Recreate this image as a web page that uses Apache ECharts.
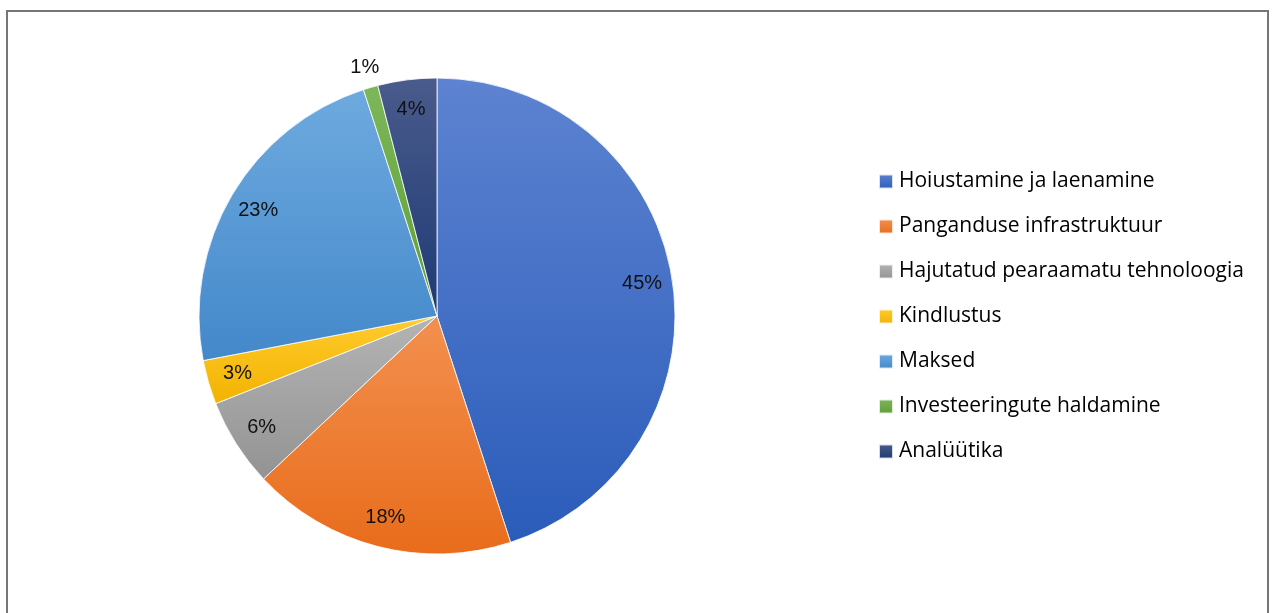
<!DOCTYPE html>
<html>
<head>
<meta charset="utf-8">
<style>
  html, body { margin: 0; padding: 0; background: #fff; }
  #chart { width: 1275px; height: 613px; }
</style>
<script src="https://cdn.jsdelivr.net/npm/echarts@6/dist/echarts.min.js"></script>
</head>
<body>
<div id="chart"></div>
<script>
// Fintech segments and their shares (%)
const categories = [
  'Hoiustamine ja laenamine',
  'Panganduse infrastruktuur',
  'Hajutatud pearaamatu tehnoloogia',
  'Kindlustus',
  'Maksed',
  'Investeeringute haldamine',
  'Analüütika'
];
const shares = [45, 18, 6, 3, 23, 1, 4];

// Top / bottom colours of each slice's vertical gradient
const topColors    = ['#5d83d1', '#f3904f', '#b4b4b4', '#ffcb2e', '#6eaadf', '#7cb759', '#4a5b8c'];
const bottomColors = ['#2b5cba', '#e86c1b', '#939393', '#f2b300', '#4388ca', '#5f9e38', '#1d3a74'];

const chart = echarts.init(document.getElementById('chart'));

const LABEL_FONT = 'Liberation Sans';
const LEGEND_FONT = 'Open Sans';
const CENTER = [437, 316];
const R = 238;

function grad(i) {
  return new echarts.graphic.LinearGradient(0, 0, 0, 1, [
    { offset: 0, color: topColors[i] },
    { offset: 1, color: bottomColors[i] }
  ]);
}

const sliceData = categories.map((name, i) => ({
  name,
  value: shares[i],
  itemStyle: { color: grad(i) }
}));

const labelText = p => p.value + '%';

// Ring used only to place labels near the rim of the slices
const innerLabelData = categories.map((name, i) => ({
  name,
  value: shares[i],
  label: { show: shares[i] > 1 }
}));
// Ring just outside the pie for the smallest slice's label
const outerLabelData = categories.map((name, i) => ({
  name,
  value: shares[i],
  label: { show: shares[i] <= 1 }
}));

const ringBase = {
  type: 'pie',
  center: CENTER,
  startAngle: 90,
  clockwise: true,
  silent: true,
  legendHoverLink: false,
  itemStyle: { color: 'rgba(0,0,0,0)', borderWidth: 0 },
  labelLine: { show: false },
  emphasis: { disabled: true },
  animation: false
};

const labelStyle = { position: 'inside', formatter: labelText, fontFamily: LABEL_FONT, fontSize: 20, color: '#111' };

chart.setOption({
  backgroundColor: '#ffffff',
  animation: false,
  legend: {
    orient: 'vertical',
    left: 873,
    top: 166,
    icon: 'rect',
    itemWidth: 14,
    itemHeight: 14,
    itemGap: 24,
    selectedMode: false,
    data: categories,
    textStyle: { fontFamily: LEGEND_FONT, fontSize: 21, color: '#000', lineHeight: 19, padding: [0, 0, 0, 1] }
  },
  graphic: [{
    type: 'rect',
    shape: { x: 7, y: 11, width: 1261, height: 700 },
    style: { fill: 'none', stroke: '#767676', lineWidth: 2 },
    silent: true
  }],
  series: [
    {
      type: 'pie',
      center: CENTER,
      radius: [0, R],
      startAngle: 90,
      clockwise: true,
      data: sliceData,
      label: { show: false },
      labelLine: { show: false },
      itemStyle: { borderColor: 'rgba(255,255,255,0.8)', borderWidth: 1 },
      emphasis: { disabled: true },
      animation: false
    },
    Object.assign({}, ringBase, {
      radius: [R * 0.72, R],
      data: innerLabelData,
      label: labelStyle
    }),
    Object.assign({}, ringBase, {
      radius: [R, R + 36],
      data: outerLabelData,
      label: labelStyle
    })
  ]
});
</script>
</body>
</html>
